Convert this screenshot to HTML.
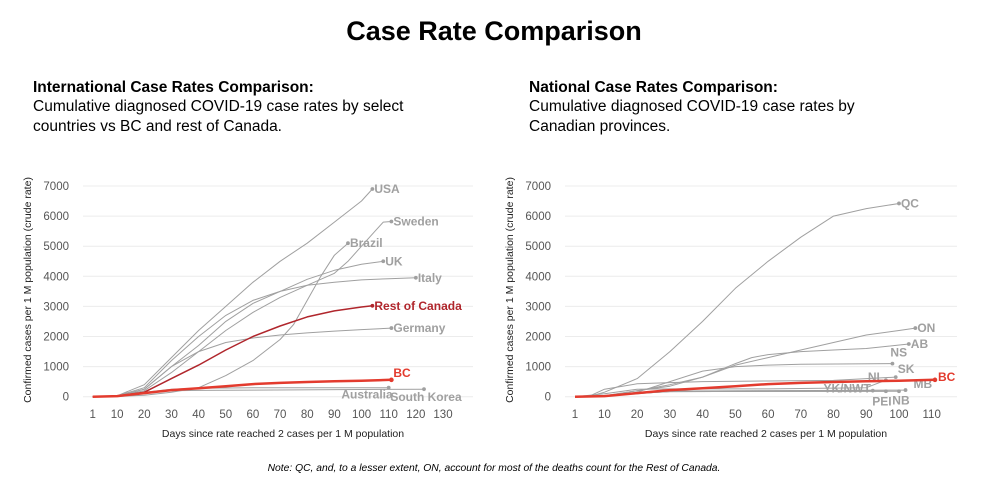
<!DOCTYPE html>
<html><head><meta charset="utf-8"><style>
body{margin:0;background:#fff;width:989px;height:487px;overflow:hidden;font-family:"Liberation Sans",Arial,sans-serif}
svg{display:block}
</style></head><body>
<svg id="root" width="989" height="487">
<text x="494" y="40" text-anchor="middle" font-size="27" font-weight="bold">Case Rate Comparison</text>
<g font-size="15.5">
<text x="33" y="92" font-weight="bold">International Case Rates Comparison:</text>
<text x="33" y="111">Cumulative diagnosed COVID-19 case rates by select</text>
<text x="33" y="131">countries vs BC and rest of Canada.</text></g>
<g font-size="15.5">
<text x="529" y="92" font-weight="bold">National Case Rates Comparison:</text>
<text x="529" y="111">Cumulative diagnosed COVID-19 case rates by</text>
<text x="529" y="131">Canadian provinces.</text></g>
<text x="494" y="471" text-anchor="middle" font-size="10.3" font-style="italic">Note: QC, and, to a lesser extent, ON, account for most of the deaths count for the Rest of Canada.</text>
<g id="left"></g><g id="right"></g>
</svg>
<script>
const yTicks=[0,1000,2000,3000,4000,5000,6000,7000];
const leftXTicks=[1,10,20,30,40,50,60,70,80,90,100,110,120,130];
const rightXTicks=[1,10,20,30,40,50,60,70,80,90,100,110];
const leftNames=["USA","Sweden","Brazil","UK","Italy","Germany","Australia","South Korea","Rest of Canada","BC"];
const usaDays=[1,10,20,30,40,50,60,70,80,90,100,104];
const usaVals=[0,30,400,1300,2200,3000,3800,4500,5100,5800,6500,6900];
const swedenDays=[1,10,20,30,40,50,60,70,80,90,95,100,105,108,111];
const swedenVals=[0,20,200,800,1500,2200,2800,3300,3700,4100,4500,5000,5500,5800,5820];
const brazilDays=[1,10,20,30,40,50,60,70,75,80,85,90,95];
const brazilVals=[0,5,50,150,300,700,1200,1900,2400,3200,4000,4700,5100];
const ukDays=[1,10,20,30,40,50,60,70,80,90,100,108];
const ukVals=[0,20,250,1000,1700,2500,3100,3500,3900,4200,4400,4500];
const italyDays=[1,10,20,30,40,50,60,70,80,90,100,110,120];
const italyVals=[0,30,300,1200,2000,2700,3200,3500,3700,3800,3880,3920,3950];
const germanyDays=[1,10,20,30,40,50,60,70,80,90,100,111];
const germanyVals=[0,20,250,1000,1500,1800,1950,2050,2120,2180,2230,2280];
const ausDays=[1,10,20,30,40,50,60,110];
const ausVals=[0,20,150,250,280,290,295,300];
const koreaDays=[1,10,20,30,40,60,123];
const koreaVals=[0,20,150,200,210,220,250];
const rocDays=[1,10,20,30,40,50,60,70,80,90,100,104];
const rocVals=[0,20,150,600,1050,1550,2000,2350,2650,2850,2980,3020];
const bcDays=[1,10,20,30,40,50,60,70,80,90,100,111];
const bcVals=[0,20,120,220,280,350,420,460,490,510,530,560];
const qcDays=[1,5,10,20,30,40,50,60,70,80,90,100];
const qcVals=[0,0,150,600,1500,2500,3600,4500,5300,6000,6250,6420];
const onDays=[1,10,20,30,40,50,60,70,80,90,100,105];
const onVals=[0,30,200,350,650,1050,1300,1550,1800,2050,2200,2280];
const abDays=[1,10,20,30,40,50,55,60,70,80,90,103];
const abVals=[0,30,200,400,650,1100,1300,1400,1500,1550,1600,1750];
const nsDays=[1,10,20,30,40,50,60,70,98];
const nsVals=[0,20,150,500,850,1000,1050,1080,1100];
const skDays=[1,5,10,20,30,40,60,80,99];
const skVals=[0,0,250,430,470,500,520,540,650];
const nlDays=[1,10,20,30,60,90,96];
const nlVals=[0,100,250,260,260,300,550];
const mbDays=[1,10,20,30,60,102];
const mbVals=[0,20,100,180,200,220];
const ykDays=[1,10,20,30,60,92];
const ykVals=[0,20,120,180,190,200];
const peiDays=[1,10,20,30,60,96];
const peiVals=[0,20,110,170,175,180];
const nbDays=[1,10,20,30,60,100];
const nbVals=[0,20,110,170,175,180];

const NS="http://www.w3.org/2000/svg";
function mk(parent,tag,attrs){const e=document.createElementNS(NS,tag);for(const k in attrs)e.setAttribute(k,attrs[k]);parent.appendChild(e);return e;}

function chart(gid,cfg){
  const g=document.getElementById(gid);
  const sx=d=>cfg.x0+(d-1)*(cfg.x1-cfg.x0)/(cfg.dMax-1);
  const sy=v=>396.7-v*(396.7-186)/7000;
  yTicks.forEach(t=>{
    const l=mk(g,'line',{x1:cfg.gl,x2:cfg.gr,y1:sy(t),y2:sy(t),stroke:'#ececec','stroke-width':1});
    
    
    const tx=mk(g,'text',{x:cfg.gl-14,y:sy(t)+4,'text-anchor':'end','font-size':11.5,fill:'#555'});
    tx.textContent=t;
    
    
  });
  cfg.xTicks.forEach(t=>{
    const tx=mk(g,'text',{x:sx(t),y:418,'text-anchor':'middle','font-size':11.5,fill:'#555'});
    tx.textContent=t;
    
    
  });
  const xt=mk(g,'text',{x:(cfg.gl+cfg.gr)/2+5,y:437,'text-anchor':'middle','font-size':10.5,fill:'#222'});
  xt.textContent='Days since rate reached 2 cases per 1 M population';
  
  
  const yt=mk(g,'text',{x:0,y:0,'text-anchor':'middle','font-size':10.5,fill:'#222',transform:`translate(${cfg.yx},290) rotate(-90)`});
  yt.textContent='Confirmed cases per 1 M population (crude rate)';
  
  
  cfg.series.forEach(s=>{
    const pts=s.d.map((d,i)=>sx(d).toFixed(1)+','+sy(s.v[i]).toFixed(1)).join(' ');
    const p=mk(g,'polyline',{points:pts,fill:'none',stroke:s.c,'stroke-width':s.w,'stroke-linejoin':'round'});
    
    
    const ld=s.d[s.d.length-1],lv=s.v[s.v.length-1];
    const c=mk(g,'circle',{cx:sx(ld),cy:sy(lv),r:s.w>1.5?2.3:1.9,fill:s.c});
    
    
    const lb=mk(g,'text',{x:sx(ld)+(s.dx||2),y:sy(lv)+(s.dy||4),'font-size':12,'font-weight':'bold',fill:s.lc||s.c,'text-anchor':s.a||'start'});
    lb.textContent=s.n;
    
    
  });
}
const grey='#a0a0a0';
chart('left',{x0:92.7,x1:443,dMax:130,gl:83,gr:473,yx:31,xTicks:leftXTicks,series:[
 {n:leftNames[0],d:usaDays,v:usaVals,c:grey,w:1},
 {n:leftNames[1],d:swedenDays,v:swedenVals,c:grey,w:1},
 {n:leftNames[2],d:brazilDays,v:brazilVals,c:grey,w:1},
 {n:leftNames[3],d:ukDays,v:ukVals,c:grey,w:1},
 {n:leftNames[4],d:italyDays,v:italyVals,c:grey,w:1},
 {n:leftNames[5],d:germanyDays,v:germanyVals,c:grey,w:1},
 {n:leftNames[6],d:ausDays,v:ausVals,c:grey,w:1,dy:11,a:'end',dx:4},
 {n:leftNames[7],d:koreaDays,v:koreaVals,c:grey,w:1,dy:12,a:'middle',dx:0},
 {n:leftNames[8],d:rocDays,v:rocVals,c:'#b0262c',w:1.5},
 {n:leftNames[9],d:bcDays,v:bcVals,c:'#e33b2e',w:2.5,dy:-3}
]});
chart('right',{x0:575,x1:931.7,dMax:110,gl:565,gr:957,yx:513,xTicks:rightXTicks,series:[
 {n:'QC',d:qcDays,v:qcVals,c:grey,w:1},
 {n:'ON',d:onDays,v:onVals,c:grey,w:1},
 {n:'AB',d:abDays,v:abVals,c:grey,w:1},
 {n:'NS',d:nsDays,v:nsVals,c:grey,w:1,dy:-7,dx:-2},
 {n:'SK',d:skDays,v:skVals,c:grey,w:1,dy:-4},
 {n:'NL',d:nlDays,v:nlVals,c:grey,w:1,a:'end',dx:-2,dy:1},
 {n:'MB',d:mbDays,v:mbVals,c:grey,w:1,dx:8,dy:-2},
 {n:'YK/NWT',d:ykDays,v:ykVals,c:grey,w:1.5,a:'end',dx:-2,dy:2},
 {n:'PEI',d:peiDays,v:peiVals,c:grey,w:1,a:'middle',dx:-4,dy:14},
 {n:'NB',d:nbDays,v:nbVals,c:grey,w:1,a:'middle',dx:2,dy:13},
 {n:'BC',d:bcDays,v:bcVals,c:'#e33b2e',w:2.5,dx:3,dy:1}
]});
</script>
</body></html>
